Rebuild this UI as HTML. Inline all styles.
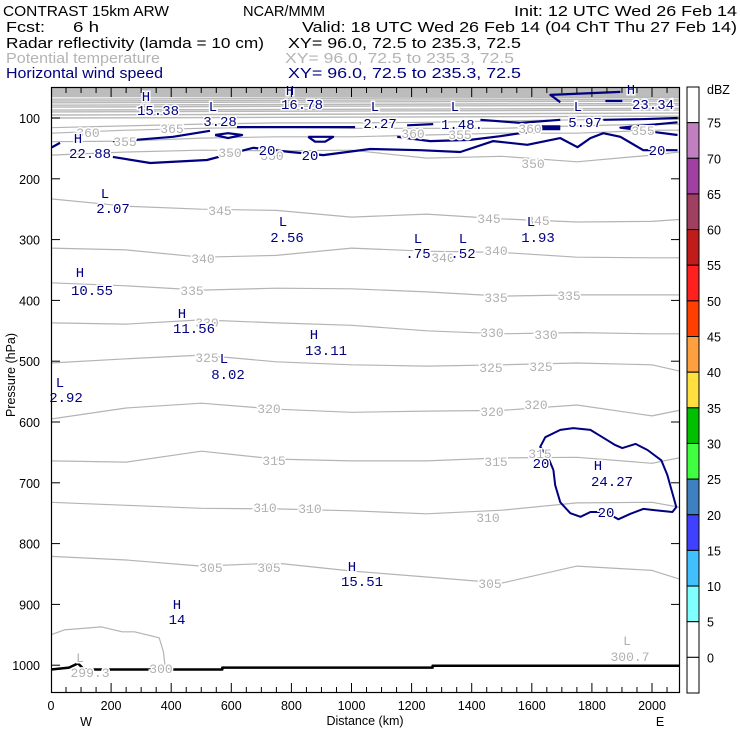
<!DOCTYPE html>
<html><head><meta charset="utf-8">
<style>
html,body{margin:0;padding:0;background:#fff;}
svg{display:block;font-family:"Liberation Sans",sans-serif;}
.hd{font-size:15px;}
.tk{font-size:12.5px;}
.gl{fill:#b0b0b0;font-size:13px;font-family:"Liberation Mono",monospace;stroke:#fff;stroke-width:3px;paint-order:stroke;}
.nl{fill:#000080;font-size:14px;font-family:"Liberation Mono",monospace;stroke:#fff;stroke-width:3px;paint-order:stroke;}
</style></head>
<body>
<svg id="chart" width="740" height="740" viewBox="0 0 740 740">
<g class="hd">
<text x="3" y="16" textLength="166" lengthAdjust="spacingAndGlyphs">CONTRAST 15km ARW</text>
<text x="243" y="16" textLength="82" lengthAdjust="spacingAndGlyphs">NCAR/MMM</text>
<text x="514" y="16" textLength="223" lengthAdjust="spacingAndGlyphs">Init: 12 UTC Wed 26 Feb 14</text>
<text x="6" y="32" textLength="39" lengthAdjust="spacingAndGlyphs">Fcst:</text>
<text x="73" y="32" textLength="26" lengthAdjust="spacingAndGlyphs">6 h</text>
<text x="302" y="32" textLength="435" lengthAdjust="spacingAndGlyphs">Valid: 18 UTC Wed 26 Feb 14 (04 ChT Thu 27 Feb 14)</text>
<text x="6" y="48" textLength="258" lengthAdjust="spacingAndGlyphs">Radar reflectivity (lamda = 10 cm)</text>
<text x="288" y="48" textLength="233" lengthAdjust="spacingAndGlyphs">XY=  96.0, 72.5 to 235.3, 72.5</text>
<text x="6" y="63" textLength="154" lengthAdjust="spacingAndGlyphs" fill="#b4b4b4">Potential temperature</text>
<text x="285" y="63" textLength="229" lengthAdjust="spacingAndGlyphs" fill="#b4b4b4">XY=  96.0, 72.5 to 235.3, 72.5</text>
<text x="6" y="78" textLength="157" lengthAdjust="spacingAndGlyphs" fill="#000080">Horizontal wind speed</text>
<text x="288" y="78" textLength="233" lengthAdjust="spacingAndGlyphs" fill="#000080">XY=  96.0, 72.5 to 235.3, 72.5</text>
</g>
<g id="plot"></g>
<g id="anno">
<g>
<text class="gl" x="88" y="137" text-anchor="middle">360</text>
<text class="gl" x="172" y="133" text-anchor="middle">365</text>
<text class="gl" x="125" y="146" text-anchor="middle">355</text>
<text class="gl" x="230" y="157" text-anchor="middle">350</text>
<text class="gl" x="272" y="160" text-anchor="middle">350</text>
<text class="gl" x="413" y="138" text-anchor="middle">360</text>
<text class="gl" x="460" y="139" text-anchor="middle">355</text>
<text class="gl" x="530" y="133" text-anchor="middle">360</text>
<text class="gl" x="643" y="135" text-anchor="middle">355</text>
<text class="gl" x="533" y="168" text-anchor="middle">350</text>
<text class="gl" x="220" y="215" text-anchor="middle">345</text>
<text class="gl" x="489" y="223" text-anchor="middle">345</text>
<text class="gl" x="538" y="225" text-anchor="middle">345</text>
<text class="gl" x="203" y="263" text-anchor="middle">340</text>
<text class="gl" x="443" y="262" text-anchor="middle">340</text>
<text class="gl" x="496" y="255" text-anchor="middle">340</text>
<text class="gl" x="192" y="295" text-anchor="middle">335</text>
<text class="gl" x="496" y="302" text-anchor="middle">335</text>
<text class="gl" x="569" y="300" text-anchor="middle">335</text>
<text class="gl" x="207" y="327" text-anchor="middle">330</text>
<text class="gl" x="492" y="337" text-anchor="middle">330</text>
<text class="gl" x="546" y="339" text-anchor="middle">330</text>
<text class="gl" x="207" y="362" text-anchor="middle">325</text>
<text class="gl" x="491" y="372" text-anchor="middle">325</text>
<text class="gl" x="541" y="371" text-anchor="middle">325</text>
<text class="gl" x="269" y="413" text-anchor="middle">320</text>
<text class="gl" x="492" y="416" text-anchor="middle">320</text>
<text class="gl" x="536" y="409" text-anchor="middle">320</text>
<text class="gl" x="274" y="465" text-anchor="middle">315</text>
<text class="gl" x="496" y="466" text-anchor="middle">315</text>
<text class="gl" x="540" y="458" text-anchor="middle">315</text>
<text class="gl" x="265" y="512" text-anchor="middle">310</text>
<text class="gl" x="310" y="513" text-anchor="middle">310</text>
<text class="gl" x="488" y="522" text-anchor="middle">310</text>
<text class="gl" x="211" y="572" text-anchor="middle">305</text>
<text class="gl" x="269" y="572" text-anchor="middle">305</text>
<text class="gl" x="490" y="588" text-anchor="middle">305</text>
<text class="gl" x="161" y="673" text-anchor="middle">300</text>
<text class="gl" x="627" y="645" text-anchor="middle">L</text>
<text class="gl" x="630" y="661" text-anchor="middle">300.7</text>
<text class="gl" x="80" y="662" text-anchor="middle">L</text>
<text class="gl" x="90" y="677" text-anchor="middle">299.3</text>
</g>
<g>
<text class="nl" x="146" y="101" text-anchor="middle">H</text><text class="nl" x="158" y="115" text-anchor="middle">15.38</text>
<text class="nl" x="290" y="95" text-anchor="middle">H</text><text class="nl" x="302" y="109" text-anchor="middle">16.78</text>
<text class="nl" x="213" y="111" text-anchor="middle">L</text><text class="nl" x="220" y="126" text-anchor="middle">3.28</text>
<text class="nl" x="375" y="111" text-anchor="middle">L</text><text class="nl" x="380" y="128" text-anchor="middle">2.27</text>
<text class="nl" x="455" y="111" text-anchor="middle">L</text><text class="nl" x="462" y="129" text-anchor="middle">1.48.</text>
<text class="nl" x="578" y="111" text-anchor="middle">L</text><text class="nl" x="585" y="127" text-anchor="middle">5.97</text>
<text class="nl" x="631" y="94" text-anchor="middle">H</text><text class="nl" x="653" y="109" text-anchor="middle">23.34</text>
<text class="nl" x="78" y="143" text-anchor="middle">H</text><text class="nl" x="90" y="158" text-anchor="middle">22.88</text>
<text class="nl" x="105" y="198" text-anchor="middle">L</text><text class="nl" x="113" y="213" text-anchor="middle">2.07</text>
<text class="nl" x="283" y="226" text-anchor="middle">L</text><text class="nl" x="287" y="242" text-anchor="middle">2.56</text>
<text class="nl" x="418" y="243" text-anchor="middle">L</text><text class="nl" x="418" y="258" text-anchor="middle">.75</text>
<text class="nl" x="463" y="243" text-anchor="middle">L</text><text class="nl" x="463" y="258" text-anchor="middle">.52</text>
<text class="nl" x="531" y="226" text-anchor="middle">L</text><text class="nl" x="538" y="242" text-anchor="middle">1.93</text>
<text class="nl" x="80" y="277" text-anchor="middle">H</text><text class="nl" x="92" y="295" text-anchor="middle">10.55</text>
<text class="nl" x="182" y="318" text-anchor="middle">H</text><text class="nl" x="194" y="333" text-anchor="middle">11.56</text>
<text class="nl" x="224" y="363" text-anchor="middle">L</text><text class="nl" x="228" y="379" text-anchor="middle">8.02</text>
<text class="nl" x="314" y="339" text-anchor="middle">H</text><text class="nl" x="326" y="355" text-anchor="middle">13.11</text>
<text class="nl" x="60" y="387" text-anchor="middle">L</text><text class="nl" x="66" y="402" text-anchor="middle">2.92</text>
<text class="nl" x="598" y="470" text-anchor="middle">H</text><text class="nl" x="612" y="486" text-anchor="middle">24.27</text>
<text class="nl" x="352" y="571" text-anchor="middle">H</text><text class="nl" x="362" y="586" text-anchor="middle">15.51</text>
<text class="nl" x="177" y="609" text-anchor="middle">H</text><text class="nl" x="177" y="624" text-anchor="middle">14</text>
<text class="nl" x="267" y="155" text-anchor="middle">20</text>
<text class="nl" x="310" y="160" text-anchor="middle">20</text>
<text class="nl" x="657" y="155" text-anchor="middle">20</text>
<text class="nl" x="541" y="468" text-anchor="middle">20</text>
<text class="nl" x="606" y="517" text-anchor="middle">20</text>
</g>
</g>
<g id="axes" class="tk"></g>
<g id="cbar" class="tk"></g>
</svg>
<script>
// ---- data ----
const thetaLevels = [305,310,315,320,325,330,335,340,345,350,355,360,365];
const gridKm = [0,250,500,750,1000,1250,1500,1750,2000,2090];
const theta305 = [821,827,837,832,845,855,865,837,844,858];
const theta310 = [732,737,742,743,746,751,745,733,732,740];
const theta315 = [664,666,648,661,664,664,659,658,668,659];
const theta320 = [595,577,569,579,584,582,581,572,590,581];
const theta325 = [503,496,490,501,506,508,506,503,506,516];
const theta330 = [437,439,432,437,441,450,455,453,455,455];
const theta335 = [371,376,383,380,381,386,393,391,391,391];
const theta340 = [314,317,329,326,314,319,321,329,330,330];
const theta345 = [233,245,250,252,263,258,266,271,270,267];
const theta350 = [161,156,153,154,153,166,163,172,161,156];
const theta355 = [139,138,133,131,131,128,125,125,120,120];
const theta360 = [125,120,117,115,117,117,117,113,110,110];
const theta365 = [116,113,110,108,108,107,105,103,102,102];
const upperLeftP = [100,95,90,87,82,79,75,72,69];
const upperRightP = [97,92,87,84,79,76,72,69,66];
const theta300Km = [0,44,168,237,278,360,374,380];
const theta300P = [950,942,937,945,945,955,978,1004];
const groundKm = [0,60,90,110,570,570,1270,1270,2090];
const groundP = [1007,1004,997,1007,1007,1004,1004,1001,1001];
// wind 20 m/s contours (km, hPa)
const jetLowKm = [206,330,519,673,796,906,1062,1229,1362,1472,1585,1695,1752,1795,1838,1895,1971,2085];
const jetLowP = [164,174,169,149,156,161,151,153,156,138,144,133,148,133,125,131,153,153];
const jetUp1Km = [206,406,529];
const jetUp1P = [139,131,121];
const jetUp2Km = [619,1012];
const jetUp2P = [115,115];
const jetUp3Km = [1185,1272];
const jetUp3P = [112,110];
const jetUp4Km = [1152,1262,1395,1495,1628];
const jetUp4P = [131,138,136,130,120];
const jetUp5Km = [1429,1562,1695];
const jetUp5P = [103,108,103];
const jetUp6Km = [1838,1961,2085];
const jetUp6P = [103,102,100];
const jetBlobKm = [1628,1695];
const jetBlobP = [116,116];
const jetRightKm = [2085,1895,2085];
const jetRightP = [107,116,128];
const jetTopKm = [1895,1662,1695];
const jetTopP = [57,62,74];
const jetDashKm = [1845,1901];
const jetDashP = [72,72];
const jetEdgeKm = [0,30];
const jetEdgeP = [149,141];
const loop1Km = [546,589,636,589,546];
const loop1P = [128,125,128,133,128];
const loop2Km = [856,896,939,912,879,856];
const loop2P = [131,131,131,139,139,131];
const lowJetKm = [1672,1655,1628,1645,1695,1738,1795,1835,1878,1901,1945,1985,2031,2051,2068,2081,2068,2011,1971,1928,1888,1845,1795,1762,1728,1695,1678,1672];
const lowJetP = [679,659,641,625,613,610,613,625,638,643,636,646,663,687,717,740,748,745,743,751,760,748,748,756,750,732,704,679];
// axis ticks
const xTickLabels = [0,200,400,600,800,1000,1200,1400,1600,1800,2000];
const yTickLabels = [100,200,300,400,500,600,700,800,900,1000];
const cbarLabels = [75,70,65,60,55,50,45,40,35,30,25,20,15,10,5,0];
const cbarColors = ["#ffffff","#c080c0","#a040a0","#a04060","#c01c1c","#ff2020","#ff4000","#ffa040","#ffe040","#00c000","#40ff40","#4080c0","#4040ff","#40c0ff","#80ffff","#ffffff","#ffffff"];

// ---- scales ----
const X0=51, X1=680, Y0=87, Y1=693;
const X = km => 51 + km*0.3005;
const Y = p => 118 + (p-100)*0.608;
const NS="http://www.w3.org/2000/svg";
function mk(tag, attrs, parent){const e=document.createElementNS(NS,tag);for(const k in attrs)e.setAttribute(k,attrs[k]);parent.appendChild(e);return e;}
const plot=document.getElementById('plot');
function poly(km,p,stroke,w,name){
  const pts=km.map((k,i)=>X(k).toFixed(1)+','+Y(p[i]).toFixed(1)).join(' ');
  const e=mk('polyline',{points:pts,fill:'none',stroke:stroke,'stroke-width':w,'stroke-linejoin':'round'},plot);
  
  
  return e;
}
const defs=mk('defs',{},plot);
const cp=mk('clipPath',{id:'clipP'},defs);
mk('rect',{x:X0,y:Y0,width:X1-X0,height:Y1-Y0},cp);
plot.setAttribute('clip-path','url(#clipP)');
const band=mk('rect',{x:X0,y:Y(50),width:X1-X0,height:Y(66)-Y(50),fill:'#bcbcbc'},plot);


upperLeftP.forEach((pl,i)=>{
  poly([0,2090],[pl,upperRightP[i]],'#b8b8b8',1.4,'theta-upper-contour');
});
const thetaSeries=[theta305,theta310,theta315,theta320,theta325,theta330,theta335,theta340,theta345,theta350,theta355,theta360,theta365];
thetaSeries.forEach((s,i)=>{
  poly(gridKm,s,'#b4b4b4',1.2,'theta-contour-'+thetaLevels[i]);
});
poly(theta300Km,theta300P,'#b4b4b4',1.2,'theta-contour-300');
const navy='#000080';
[[jetLowKm,jetLowP],[jetUp1Km,jetUp1P],[jetUp2Km,jetUp2P],[jetUp3Km,jetUp3P],[jetUp4Km,jetUp4P],[jetUp5Km,jetUp5P],[jetUp6Km,jetUp6P],[jetRightKm,jetRightP],[jetTopKm,jetTopP],[jetDashKm,jetDashP],[jetEdgeKm,jetEdgeP],[loop1Km,loop1P],[loop2Km,loop2P]].forEach(d=>{
  poly(d[0],d[1],navy,2.2,'wind-contour-20-upper');
});
poly(jetBlobKm,jetBlobP,navy,5,'wind-contour-blob');
poly(lowJetKm,lowJetP,navy,2,'wind-contour-20-lowlevel');
poly(groundKm,groundP,'#000',2.5,'terrain-surface');

// ---- axes ----
const ax=document.getElementById('axes');
const frame=mk('rect',{x:X0+0.5,y:Y0+0.5,width:X1-X0-1,height:Y1-Y0-1,fill:'none',stroke:'#000','stroke-width':1.2},ax);


for(let k=50;k<2090;k+=50){
  const major=(k%200===0), L=major?10:6;
  mk('line',{x1:X(k),x2:X(k),y1:Y1,y2:Y1-L,stroke:'#000','stroke-width':1},ax);
  mk('line',{x1:X(k),x2:X(k),y1:Y0,y2:Y0+L,stroke:'#000','stroke-width':1},ax);
}
xTickLabels.forEach(v=>{
  const t=mk('text',{x:X(v),y:710,'text-anchor':'middle'},ax);t.textContent=v;
  
  
});
yTickLabels.forEach(v=>{
  mk('line',{x1:X0,x2:X0+9,y1:Y(v),y2:Y(v),stroke:'#000','stroke-width':1},ax);
  mk('line',{x1:X1,x2:X1-9,y1:Y(v),y2:Y(v),stroke:'#000','stroke-width':1},ax);
  const t=mk('text',{x:40,y:Y(v)+5,'text-anchor':'end'},ax);t.textContent=v;
  
  
});
let t=mk('text',{x:365,y:725,'text-anchor':'middle'},ax);t.textContent='Distance (km)';


t=mk('text',{x:86,y:726,'text-anchor':'middle'},ax);t.textContent='W';


t=mk('text',{x:660,y:726,'text-anchor':'middle'},ax);t.textContent='E';


t=mk('text',{x:0,y:0,'text-anchor':'middle',transform:'translate(15,375) rotate(-90)'},ax);t.textContent='Pressure (hPa)';



// ---- colorbar ----
const cb=document.getElementById('cbar');
const cbX=687, cbW=12, cbTop=87, boxH=(693-87)/cbarColors.length;
cbarColors.forEach((c,i)=>{
  const r=mk('rect',{x:cbX,y:cbTop+i*boxH,width:cbW,height:boxH,fill:c,stroke:'#000','stroke-width':1},cb);
  
  
});
cbarLabels.forEach((v,i)=>{
  const tt=mk('text',{x:707,y:cbTop+(i+1)*boxH+5},cb);tt.textContent=v;
  
  
});
t=mk('text',{x:707,y:94},cb);t.textContent='dBZ';


</script>
</body></html>
